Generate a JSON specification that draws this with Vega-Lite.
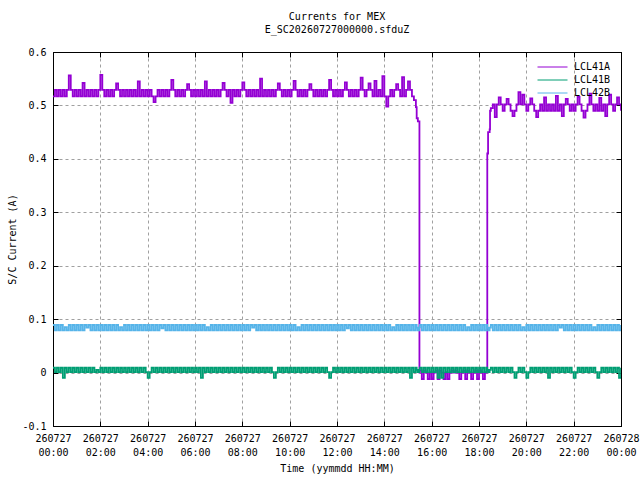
{
  "$schema": "https://vega.github.io/schema/vega-lite/v6.json",
  "width": 568,
  "height": 374,
  "autosize": {"type": "none"},
  "padding": {"left": 53, "top": 52, "right": 19, "bottom": 54},
  "background": "white",
  "title": {
    "text": "Currents for MEX",
    "subtitle": "E_SC20260727000000.sfduZ",
    "anchor": "middle",
    "offset": 12,
    "font": "DejaVu Sans Mono",
    "fontSize": 10,
    "fontWeight": "normal",
    "color": "black",
    "subtitleFont": "DejaVu Sans Mono",
    "subtitleFontSize": 10,
    "subtitleColor": "black",
    "subtitlePadding": 3
  },
  "data": {
    "values": [
      {"m":0,"a":0.517,"b":0.009,"c":0.089},{"m":5,"a":0.529,"b":0.001,"c":0.079},{"m":10,"a":0.517,"b":0.009,"c":0.089},{"m":15,"a":0.529,"b":0.001,"c":0.079},
      {"m":20,"a":0.517,"b":0.009,"c":0.089},{"m":25,"a":0.529,"b":-0.01,"c":0.079},{"m":30,"a":0.517,"b":0.009,"c":0.085},{"m":35,"a":0.529,"b":0.001,"c":0.079},
      {"m":40,"a":0.556,"b":0.009,"c":0.089},{"m":45,"a":0.529,"b":0.001,"c":0.079},{"m":50,"a":0.517,"b":0.009,"c":0.089},{"m":55,"a":0.529,"b":0.001,"c":0.079},
      {"m":60,"a":0.517,"b":0.009,"c":0.089},{"m":65,"a":0.529,"b":0.001,"c":0.079},{"m":70,"a":0.517,"b":0.009,"c":0.089},{"m":75,"a":0.542,"b":0.001,"c":0.079},
      {"m":80,"a":0.517,"b":0.009,"c":0.089},{"m":85,"a":0.529,"b":0.001,"c":0.084},{"m":90,"a":0.517,"b":0.009,"c":0.089},{"m":95,"a":0.529,"b":0.001,"c":0.079},
      {"m":100,"a":0.517,"b":0.009,"c":0.089},{"m":105,"a":0.529,"b":0.001,"c":0.079},{"m":110,"a":0.517,"b":0.005,"c":0.089},{"m":115,"a":0.529,"b":0.001,"c":0.079},
      {"m":120,"a":0.557,"b":0.009,"c":0.089},{"m":125,"a":0.529,"b":0.001,"c":0.079},{"m":130,"a":0.517,"b":0.009,"c":0.089},{"m":135,"a":0.529,"b":0.001,"c":0.079},
      {"m":140,"a":0.517,"b":0.009,"c":0.089},{"m":145,"a":0.529,"b":0.001,"c":0.079},{"m":150,"a":0.517,"b":0.009,"c":0.089},{"m":155,"a":0.529,"b":0.001,"c":0.079},
      {"m":160,"a":0.541,"b":0.009,"c":0.089},{"m":165,"a":0.529,"b":0.001,"c":0.079},{"m":170,"a":0.517,"b":0.009,"c":0.085},{"m":175,"a":0.529,"b":0.001,"c":0.079},
      {"m":180,"a":0.517,"b":0.009,"c":0.089},{"m":185,"a":0.529,"b":0.001,"c":0.079},{"m":190,"a":0.517,"b":0.009,"c":0.089},{"m":195,"a":0.529,"b":0.001,"c":0.079},
      {"m":200,"a":0.517,"b":0.009,"c":0.089},{"m":205,"a":0.529,"b":0.001,"c":0.079},{"m":210,"a":0.517,"b":0.009,"c":0.089},{"m":215,"a":0.545,"b":0.001,"c":0.079},
      {"m":220,"a":0.517,"b":0.009,"c":0.089},{"m":225,"a":0.529,"b":0.001,"c":0.079},{"m":230,"a":0.517,"b":0.009,"c":0.089},{"m":235,"a":0.529,"b":0.001,"c":0.079},
      {"m":240,"a":0.517,"b":-0.01,"c":0.089},{"m":245,"a":0.529,"b":0.001,"c":0.079},{"m":250,"a":0.517,"b":0.009,"c":0.089},{"m":255,"a":0.506,"b":0.001,"c":0.079},
      {"m":260,"a":0.517,"b":0.009,"c":0.089},{"m":265,"a":0.529,"b":0.001,"c":0.079},{"m":270,"a":0.517,"b":0.009,"c":0.089},{"m":275,"a":0.529,"b":0.001,"c":0.083},
      {"m":280,"a":0.517,"b":0.009,"c":0.089},{"m":285,"a":0.529,"b":0.001,"c":0.079},{"m":290,"a":0.517,"b":0.009,"c":0.089},{"m":295,"a":0.529,"b":0.001,"c":0.079},
      {"m":300,"a":0.548,"b":0.009,"c":0.089},{"m":305,"a":0.529,"b":0.001,"c":0.079},{"m":310,"a":0.517,"b":0.009,"c":0.089},{"m":315,"a":0.529,"b":0.001,"c":0.079},
      {"m":320,"a":0.517,"b":0.009,"c":0.089},{"m":325,"a":0.529,"b":0.001,"c":0.079},{"m":330,"a":0.517,"b":0.009,"c":0.089},{"m":335,"a":0.529,"b":0.001,"c":0.079},
      {"m":340,"a":0.54,"b":0.009,"c":0.089},{"m":345,"a":0.529,"b":0.001,"c":0.079},{"m":350,"a":0.517,"b":0.009,"c":0.089},{"m":355,"a":0.529,"b":0.001,"c":0.079},
      {"m":360,"a":0.517,"b":0.009,"c":0.089},{"m":365,"a":0.529,"b":0.001,"c":0.079},{"m":370,"a":0.517,"b":0.009,"c":0.089},{"m":375,"a":0.529,"b":-0.01,"c":0.079},
      {"m":380,"a":0.517,"b":0.009,"c":0.089},{"m":385,"a":0.545,"b":0.001,"c":0.079},{"m":390,"a":0.517,"b":0.009,"c":0.085},{"m":395,"a":0.529,"b":0.001,"c":0.079},
      {"m":400,"a":0.517,"b":0.009,"c":0.089},{"m":405,"a":0.529,"b":0.001,"c":0.079},{"m":410,"a":0.517,"b":0.009,"c":0.089},{"m":415,"a":0.529,"b":0.001,"c":0.079},
      {"m":420,"a":0.517,"b":0.009,"c":0.089},{"m":425,"a":0.529,"b":0.001,"c":0.079},{"m":430,"a":0.542,"b":0.009,"c":0.089},{"m":435,"a":0.529,"b":0.001,"c":0.079},
      {"m":440,"a":0.517,"b":0.009,"c":0.089},{"m":445,"a":0.529,"b":0.001,"c":0.079},{"m":450,"a":0.505,"b":0.009,"c":0.089},{"m":455,"a":0.529,"b":0.001,"c":0.079},
      {"m":460,"a":0.517,"b":0.009,"c":0.089},{"m":465,"a":0.529,"b":0.001,"c":0.079},{"m":470,"a":0.517,"b":0.009,"c":0.089},{"m":475,"a":0.529,"b":0.001,"c":0.079},
      {"m":480,"a":0.543,"b":0.009,"c":0.089},{"m":485,"a":0.529,"b":0.001,"c":0.079},{"m":490,"a":0.517,"b":0.009,"c":0.089},{"m":495,"a":0.529,"b":0.001,"c":0.079},
      {"m":500,"a":0.517,"b":0.009,"c":0.089},{"m":505,"a":0.529,"b":0.001,"c":0.084},{"m":510,"a":0.517,"b":0.009,"c":0.089},{"m":515,"a":0.529,"b":0.001,"c":0.079},
      {"m":520,"a":0.517,"b":0.009,"c":0.089},{"m":525,"a":0.55,"b":0.001,"c":0.079},{"m":530,"a":0.517,"b":0.009,"c":0.089},{"m":535,"a":0.529,"b":0.001,"c":0.079},
      {"m":540,"a":0.517,"b":0.009,"c":0.089},{"m":545,"a":0.529,"b":0.001,"c":0.079},{"m":550,"a":0.517,"b":0.009,"c":0.089},{"m":555,"a":0.529,"b":0.001,"c":0.079},
      {"m":560,"a":0.517,"b":-0.01,"c":0.089},{"m":565,"a":0.529,"b":0.001,"c":0.079},{"m":570,"a":0.541,"b":0.009,"c":0.089},{"m":575,"a":0.529,"b":0.001,"c":0.079},
      {"m":580,"a":0.517,"b":0.009,"c":0.089},{"m":585,"a":0.529,"b":0.001,"c":0.079},{"m":590,"a":0.517,"b":0.009,"c":0.089},{"m":595,"a":0.529,"b":0.001,"c":0.079},
      {"m":600,"a":0.517,"b":0.009,"c":0.089},{"m":605,"a":0.529,"b":0.001,"c":0.079},{"m":610,"a":0.546,"b":0.009,"c":0.089},{"m":615,"a":0.529,"b":0.001,"c":0.079},
      {"m":620,"a":0.517,"b":0.009,"c":0.085},{"m":625,"a":0.529,"b":0.001,"c":0.079},{"m":630,"a":0.517,"b":0.009,"c":0.089},{"m":635,"a":0.529,"b":0.001,"c":0.079},
      {"m":640,"a":0.517,"b":0.009,"c":0.089},{"m":645,"a":0.529,"b":0.001,"c":0.079},{"m":650,"a":0.54,"b":0.009,"c":0.089},{"m":655,"a":0.529,"b":0.001,"c":0.079},
      {"m":660,"a":0.517,"b":0.009,"c":0.089},{"m":665,"a":0.529,"b":0.001,"c":0.079},{"m":670,"a":0.517,"b":0.009,"c":0.089},{"m":675,"a":0.529,"b":0.001,"c":0.079},
      {"m":680,"a":0.517,"b":0.009,"c":0.089},{"m":685,"a":0.529,"b":0.001,"c":0.079},{"m":690,"a":0.517,"b":0.009,"c":0.089},{"m":695,"a":0.529,"b":0.001,"c":0.079},
      {"m":700,"a":0.548,"b":-0.01,"c":0.089},{"m":705,"a":0.529,"b":0.001,"c":0.079},{"m":710,"a":0.517,"b":0.009,"c":0.089},{"m":715,"a":0.529,"b":0.001,"c":0.079},
      {"m":720,"a":0.517,"b":0.009,"c":0.089},{"m":725,"a":0.529,"b":0.001,"c":0.079},{"m":730,"a":0.517,"b":0.009,"c":0.089},{"m":735,"a":0.529,"b":0.001,"c":0.079},
      {"m":740,"a":0.543,"b":0.009,"c":0.089},{"m":745,"a":0.529,"b":0.001,"c":0.083},{"m":750,"a":0.517,"b":0.009,"c":0.089},{"m":755,"a":0.529,"b":0.001,"c":0.079},
      {"m":760,"a":0.517,"b":0.009,"c":0.089},{"m":765,"a":0.529,"b":0.001,"c":0.079},{"m":770,"a":0.517,"b":0.009,"c":0.089},{"m":775,"a":0.529,"b":0.001,"c":0.079},
      {"m":780,"a":0.552,"b":0.009,"c":0.089},{"m":785,"a":0.529,"b":0.001,"c":0.079},{"m":790,"a":0.517,"b":0.009,"c":0.089},{"m":795,"a":0.529,"b":0.001,"c":0.079},
      {"m":800,"a":0.541,"b":0.009,"c":0.089},{"m":805,"a":0.529,"b":0.001,"c":0.079},{"m":810,"a":0.517,"b":0.009,"c":0.089},{"m":815,"a":0.546,"b":0.001,"c":0.079},
      {"m":820,"a":0.517,"b":0.009,"c":0.089},{"m":825,"a":0.529,"b":0.001,"c":0.079},{"m":830,"a":0.517,"b":0.009,"c":0.089},{"m":835,"a":0.555,"b":0.001,"c":0.079},
      {"m":840,"a":0.517,"b":0.009,"c":0.089},{"m":845,"a":0.498,"b":0.001,"c":0.079},{"m":850,"a":0.517,"b":0.009,"c":0.089},{"m":855,"a":0.529,"b":0.001,"c":0.079},
      {"m":860,"a":0.517,"b":0.009,"c":0.085},{"m":865,"a":0.529,"b":0.001,"c":0.079},{"m":870,"a":0.54,"b":0.009,"c":0.089},{"m":875,"a":0.529,"b":0.001,"c":0.079},
      {"m":880,"a":0.517,"b":0.009,"c":0.089},{"m":885,"a":0.553,"b":0.001,"c":0.079},{"m":890,"a":0.517,"b":0.009,"c":0.089},{"m":895,"a":0.529,"b":0.001,"c":0.079},
      {"m":900,"a":0.545,"b":0.009,"c":0.089},{"m":905,"a":0.529,"b":-0.01,"c":0.079},{"m":910,"a":0.517,"b":0.009,"c":0.089},{"m":915,"a":0.51,"b":0.001,"c":0.079},
      {"m":920,"a":0.497,"b":0.009,"c":0.089},{"m":922,"a":0.476,"b":0.005,"c":0.084},{"m":925,"a":0.47,"b":0.001,"c":0.079},{"m":928,"a":0.47,"b":0.005,"c":0.084},
      {"m":929,"a":0,"b":0.005,"c":0.085},{"m":930,"a":0.004,"b":0.009,"c":0.089},{"m":935,"a":-0.012,"b":0.001,"c":0.079},{"m":940,"a":0.004,"b":0.009,"c":0.089},
      {"m":945,"a":0,"b":0.001,"c":0.079},{"m":950,"a":-0.012,"b":0.009,"c":0.089},{"m":955,"a":0,"b":0.001,"c":0.079},
      {"m":960,"a":-0.012,"b":0.009,"c":0.089},{"m":965,"a":0,"b":0.001,"c":0.079},{"m":970,"a":0.004,"b":0.009,"c":0.089},{"m":975,"a":-0.012,"b":-0.01,"c":0.079},
      {"m":980,"a":0.004,"b":0.009,"c":0.089},{"m":985,"a":0,"b":-0.01,"c":0.079},{"m":990,"a":-0.012,"b":0.009,"c":0.089},{"m":995,"a":0,"b":0.001,"c":0.079},
      {"m":1000,"a":-0.012,"b":0.009,"c":0.089},{"m":1005,"a":0,"b":0.001,"c":0.079},{"m":1010,"a":0.004,"b":0.009,"c":0.089},{"m":1015,"a":0,"b":0.001,"c":0.079},
      {"m":1020,"a":0.004,"b":0.009,"c":0.089},{"m":1025,"a":0,"b":0.001,"c":0.079},{"m":1030,"a":-0.012,"b":0.009,"c":0.089},{"m":1035,"a":0,"b":0.001,"c":0.079},
      {"m":1040,"a":0.004,"b":0.009,"c":0.089},{"m":1045,"a":-0.012,"b":0.001,"c":0.079},{"m":1050,"a":0.004,"b":0.009,"c":0.085},{"m":1055,"a":0,"b":0.001,"c":0.079},
      {"m":1060,"a":-0.012,"b":0.009,"c":0.089},{"m":1065,"a":0,"b":0.001,"c":0.079},{"m":1070,"a":0.004,"b":0.009,"c":0.089},{"m":1075,"a":-0.012,"b":0.001,"c":0.079},
      {"m":1080,"a":0.004,"b":0.009,"c":0.089},{"m":1085,"a":0,"b":0.001,"c":0.079},{"m":1090,"a":-0.012,"b":0.009,"c":0.089},{"m":1095,"a":0,"b":0.001,"c":0.079},
      {"m":1100,"a":0.003,"b":0.009,"c":0.089},{"m":1101,"a":0.41,"b":0.005,"c":0.084},{"m":1103,"a":0.45,"b":0.005,"c":0.084},{"m":1105,"a":0.45,"b":0.001,"c":0.079},
      {"m":1107,"a":0.455,"b":0.005,"c":0.084},{"m":1108,"a":0.49,"b":0.005,"c":0.084},{"m":1110,"a":0.495,"b":0.009,"c":0.089},{"m":1115,"a":0.502,"b":0.001,"c":0.079},
      {"m":1120,"a":0.478,"b":0.009,"c":0.089},{"m":1125,"a":0.502,"b":0.001,"c":0.079},{"m":1130,"a":0.515,"b":0.009,"c":0.089},{"m":1135,"a":0.502,"b":0.001,"c":0.079},
      {"m":1140,"a":0.49,"b":0.009,"c":0.089},{"m":1145,"a":0.502,"b":0.001,"c":0.079},{"m":1150,"a":0.512,"b":0.009,"c":0.089},{"m":1155,"a":0.502,"b":0.001,"c":0.079},
      {"m":1160,"a":0.49,"b":0.009,"c":0.089},{"m":1165,"a":0.48,"b":0.001,"c":0.079},{"m":1170,"a":0.49,"b":-0.01,"c":0.089},{"m":1175,"a":0.502,"b":0.001,"c":0.079},
      {"m":1180,"a":0.525,"b":0.009,"c":0.089},{"m":1185,"a":0.502,"b":0.001,"c":0.079},{"m":1190,"a":0.52,"b":0.009,"c":0.085},{"m":1195,"a":0.502,"b":0.001,"c":0.079},
      {"m":1200,"a":0.49,"b":-0.01,"c":0.089},{"m":1205,"a":0.502,"b":0.001,"c":0.079},{"m":1210,"a":0.513,"b":0.009,"c":0.089},{"m":1215,"a":0.502,"b":0.001,"c":0.079},
      {"m":1220,"a":0.49,"b":0.009,"c":0.089},{"m":1225,"a":0.478,"b":0.001,"c":0.079},{"m":1230,"a":0.49,"b":0.009,"c":0.089},{"m":1235,"a":0.502,"b":0.001,"c":0.079},
      {"m":1240,"a":0.49,"b":0.009,"c":0.089},{"m":1245,"a":0.515,"b":0.001,"c":0.079},{"m":1250,"a":0.49,"b":0.009,"c":0.089},{"m":1255,"a":0.502,"b":-0.01,"c":0.079},
      {"m":1260,"a":0.49,"b":0.009,"c":0.089},{"m":1265,"a":0.502,"b":0.001,"c":0.079},{"m":1270,"a":0.49,"b":0.009,"c":0.089},{"m":1275,"a":0.518,"b":0.001,"c":0.079},
      {"m":1280,"a":0.49,"b":0.009,"c":0.089},{"m":1285,"a":0.502,"b":0.001,"c":0.084},{"m":1290,"a":0.48,"b":0.009,"c":0.089},{"m":1295,"a":0.502,"b":0.001,"c":0.079},
      {"m":1300,"a":0.512,"b":0.009,"c":0.089},{"m":1305,"a":0.502,"b":0.001,"c":0.079},{"m":1310,"a":0.49,"b":0.009,"c":0.089},{"m":1315,"a":0.502,"b":0.001,"c":0.079},
      {"m":1320,"a":0.49,"b":-0.01,"c":0.089},{"m":1325,"a":0.502,"b":0.001,"c":0.079},{"m":1330,"a":0.516,"b":0.009,"c":0.089},{"m":1335,"a":0.502,"b":0.001,"c":0.079},
      {"m":1340,"a":0.49,"b":0.009,"c":0.089},{"m":1345,"a":0.477,"b":0.001,"c":0.079},{"m":1350,"a":0.49,"b":0.009,"c":0.089},{"m":1355,"a":0.502,"b":0.001,"c":0.079},
      {"m":1360,"a":0.522,"b":0.009,"c":0.089},{"m":1365,"a":0.502,"b":0.001,"c":0.079},{"m":1370,"a":0.49,"b":0.009,"c":0.085},{"m":1375,"a":0.502,"b":0.001,"c":0.079},
      {"m":1380,"a":0.49,"b":-0.01,"c":0.089},{"m":1385,"a":0.514,"b":0.001,"c":0.079},{"m":1390,"a":0.49,"b":0.009,"c":0.089},{"m":1395,"a":0.502,"b":0.001,"c":0.079},
      {"m":1400,"a":0.48,"b":0.009,"c":0.089},{"m":1405,"a":0.502,"b":0.001,"c":0.079},{"m":1410,"a":0.52,"b":0.009,"c":0.089},{"m":1415,"a":0.502,"b":0.001,"c":0.079},
      {"m":1420,"a":0.49,"b":0.009,"c":0.089},{"m":1425,"a":0.502,"b":0.001,"c":0.079},{"m":1430,"a":0.515,"b":0.009,"c":0.089},{"m":1435,"a":0.502,"b":-0.01,"c":0.079},
      {"m":1440,"a":0.49,"b":0.009,"c":0.089}
    ]
  },
  "transform": [{"fold": ["a", "b", "c"], "as": ["k", "v"]}],
  "layer": [
    {
      "mark": {"type": "line", "strokeWidth": 1.8, "interpolate": "step-after", "clip": true},
      "encoding": {
        "x": {
          "field": "m", "type": "quantitative",
          "scale": {"domain": [0, 1440], "nice": false, "zero": false},
          "axis": {
            "values": [0, 120, 240, 360, 480, 600, 720, 840, 960, 1080, 1200, 1320, 1440],
            "labelExpr": "datum.value == 1440 ? ['260728', '00:00'] : ['260727', format(datum.value / 60, '02d') + ':00']",
            "labelLineHeight": 14,
            "title": "Time (yymmdd HH:MM)",
            "titlePadding": 6
          }
        },
        "y": {
          "field": "v", "type": "quantitative",
          "scale": {"domain": [-0.1, 0.6], "nice": false, "zero": false},
          "axis": {
            "values": [-0.1, 0, 0.1, 0.2, 0.3, 0.4, 0.5, 0.6],
            "labelExpr": "datum.value == 0 ? '0' : datum.value < 0 ? '-' + format(-datum.value, '.1f') : format(datum.value, '.1f')",
            "title": "S/C Current (A)",
            "titlePadding": 4
          }
        },
        "color": {
          "field": "k", "type": "nominal",
          "scale": {"domain": ["a", "b", "c"], "range": ["#9400d3", "#009e73", "#56b4e9"]},
          "legend": {
            "title": null,
            "orient": "top-right",
            "offset": 10,
            "padding": 0,
            "symbolType": "stroke",
            "symbolSize": 900,
            "symbolStrokeWidth": 1,
            "clipHeight": 10,
            "rowPadding": 3,
            "labelOffset": 6,
            "labelFont": "DejaVu Sans Mono",
            "labelFontSize": 10,
            "labelColor": "black",
            "labelExpr": "datum.value == 'a' ? 'LCL41A' : datum.value == 'b' ? 'LCL41B' : 'LCL42B'"
          }
        }
      }
    },
    {
      "mark": {"type": "line", "strokeOpacity": 0},
      "encoding": {
        "x": {
          "field": "m", "type": "quantitative",
          "axis": {"orient": "top", "labels": false, "grid": false, "title": null,
                   "values": [0, 120, 240, 360, 480, 600, 720, 840, 960, 1080, 1200, 1320, 1440]}
        },
        "y": {
          "field": "v", "type": "quantitative",
          "axis": {"orient": "right", "labels": false, "grid": false, "title": null,
                   "values": [-0.1, 0, 0.1, 0.2, 0.3, 0.4, 0.5, 0.6]}
        }
      }
    }
  ],
  "resolve": {"axis": {"x": "independent", "y": "independent"}},
  "config": {
    "view": {"stroke": "black", "strokeWidth": 1},
    "axis": {
      "labelFont": "DejaVu Sans Mono",
      "labelFontSize": 10,
      "labelColor": "black",
      "titleFont": "DejaVu Sans Mono",
      "titleFontSize": 10,
      "titleFontWeight": "normal",
      "titleColor": "black",
      "domainColor": "black",
      "tickColor": "black",
      "tickSize": -5,
      "labelPadding": 12,
      "labelFlush": false,
      "labelOverlap": false,
      "gridColor": "#a0a0a0",
      "gridDash": [3, 3],
      "gridOpacity": 1
    }
  }
}
